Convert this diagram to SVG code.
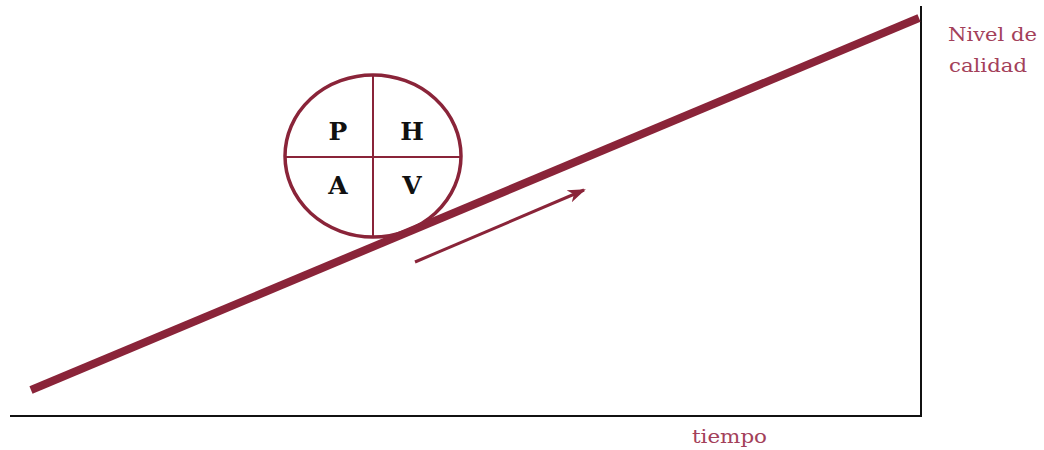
<svg xmlns="http://www.w3.org/2000/svg" width="1044" height="450" viewBox="0 0 1044 450">
<defs>
<style>
.axis{stroke:#111;stroke-width:2;fill:none}
.maroon{stroke:#8a2439;fill:none}
.letter{font-family:"DejaVu Serif","Liberation Serif",serif;font-weight:bold;font-size:25px;fill:#111;text-anchor:middle}
.label{font-family:"DejaVu Serif","Liberation Serif",serif;font-size:18px;fill:#a3405a}
</style>
<marker id="ah" viewBox="0 0 18 13" refX="16" refY="6.5" markerWidth="18" markerHeight="13" markerUnits="userSpaceOnUse" orient="auto">
<path d="M0,0 L18,6.5 L0,13 L5,6.5 Z" fill="#8a2439"/>
</marker>
</defs>
<g id="axes">
<line class="axis" x1="10" y1="416" x2="922" y2="416"/>
<line class="axis" x1="921" y1="6" x2="921" y2="417"/>
</g>
<g id="connectors">
<line class="maroon" x1="31" y1="390" x2="919" y2="18" stroke-width="8"/>
<line class="maroon" x1="415" y1="262" x2="584" y2="190" stroke-width="3" marker-end="url(#ah)"/>
</g>
<g id="phva">
<ellipse class="maroon" cx="373" cy="156" rx="88" ry="81" stroke-width="3.5"/>
<line class="maroon" x1="286" y1="157" x2="460" y2="157" stroke-width="2"/>
<line class="maroon" x1="373" y1="76" x2="373" y2="236" stroke-width="2"/>
<text class="letter" x="338" y="140">P</text>
<text class="letter" x="412" y="140">H</text>
<text class="letter" x="338" y="194">A</text>
<text class="letter" x="412" y="194">V</text>
</g>
<g id="labels">
<text class="label" x="948" y="41" textLength="89" lengthAdjust="spacingAndGlyphs">Nivel de</text>
<text class="label" x="949" y="72" textLength="78" lengthAdjust="spacingAndGlyphs">calidad</text>
<text class="label" x="692" y="443" textLength="75" lengthAdjust="spacingAndGlyphs">tiempo</text>
</g>
</svg>
